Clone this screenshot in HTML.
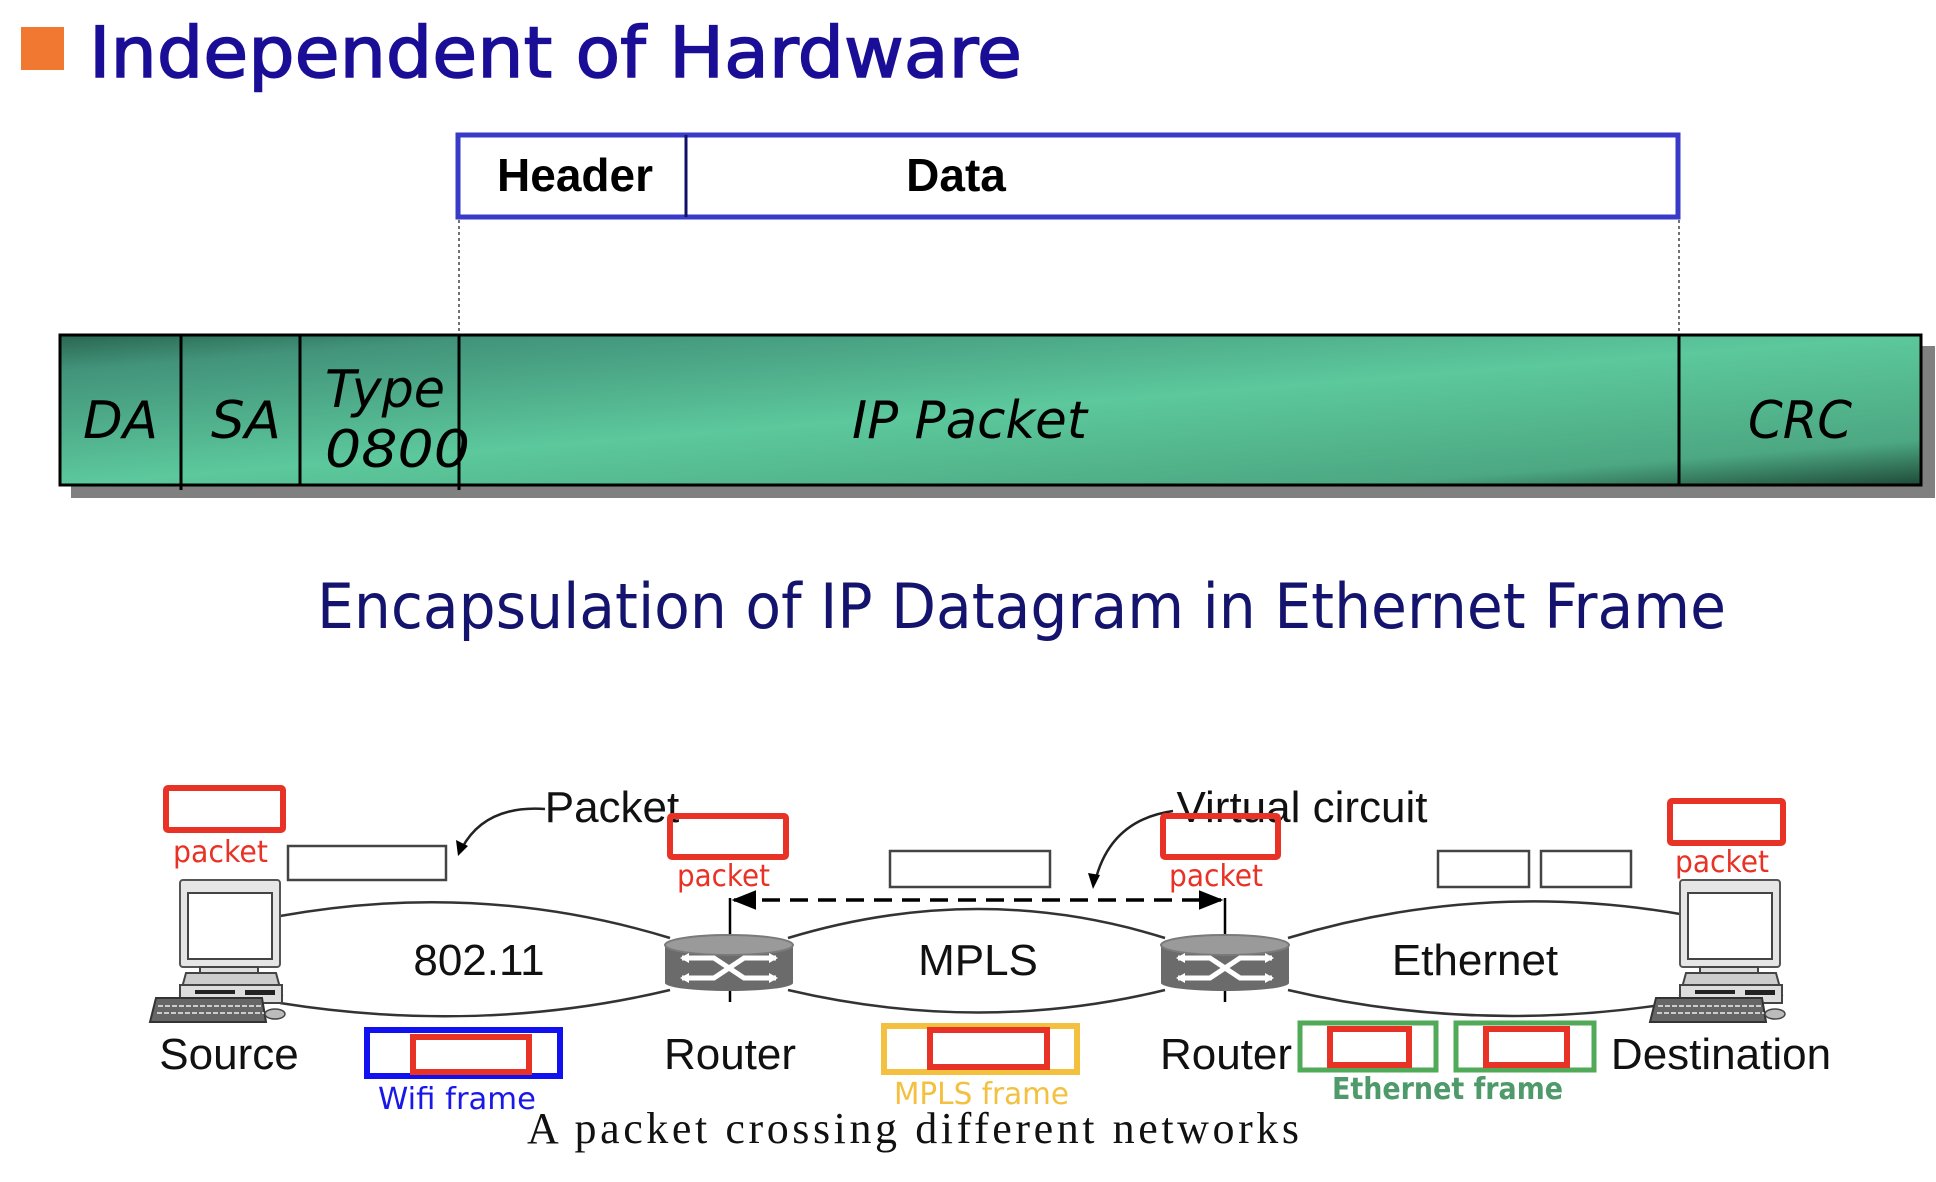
<!DOCTYPE html>
<html><head><meta charset="utf-8"><style>
html,body{margin:0;padding:0;background:#fff;}
svg{display:block;}
</style></head><body>
<svg width="1936" height="1182" viewBox="0 0 1936 1182" xmlns="http://www.w3.org/2000/svg">
<defs>
<linearGradient id="g" x1="0" y1="0" x2="1" y2="1" gradientUnits="objectBoundingBox">
<stop offset="0" stop-color="#2a6650"/>
<stop offset="0.12" stop-color="#42937a"/>
<stop offset="0.5" stop-color="#5cc89c"/>
<stop offset="0.85" stop-color="#4ca882"/>
<stop offset="1" stop-color="#1f4a38"/>
</linearGradient>
<marker id="ah" viewBox="0 0 10 10" refX="9" refY="5" markerWidth="7" markerHeight="7" orient="auto-start-reverse"><path d="M0,1 L10,5 L0,9 z" fill="#000"/></marker>
<g id="comp">
<rect x="180" y="880" width="100" height="87" rx="3" fill="#e6e6e6" stroke="#555" stroke-width="2"/>
<rect x="188" y="893" width="84" height="66" fill="#fff" stroke="#444" stroke-width="2"/>
<rect x="200" y="967" width="58" height="13" fill="#ddd" stroke="#444" stroke-width="2"/>
<path d="M180,995 L186,973 L276,973 L282,995 Z" fill="#ccc" stroke="#444" stroke-width="2"/>
<rect x="180" y="985" width="102" height="18" fill="#ddd" stroke="#444" stroke-width="2"/>
<rect x="195" y="990" width="40" height="4" fill="#222"/><rect x="245" y="990" width="30" height="5" fill="#222"/>
<path d="M156,998 L262,998 L266,1022 L150,1022 Z" fill="#666" stroke="#333" stroke-width="2"/>
<path d="M158,1006 H262 M157,1013 H264" stroke="#ccc" stroke-width="2" stroke-dasharray="5 2"/>
<ellipse cx="275" cy="1014" rx="10" ry="5" fill="#bbb" stroke="#444" stroke-width="1.5"/>
</g>
<g id="rtr">
<rect x="665" y="945" width="128" height="38" fill="#6b6b6b"/>
<ellipse cx="729" cy="983" rx="64" ry="8" fill="#6b6b6b"/>
<ellipse cx="729" cy="945" rx="64" ry="10" fill="#9a9a9a" stroke="#7a7a7a" stroke-width="2"/>
<path d="M682,958 H714 L744,978 H776 M682,978 H714 L744,958 H776" stroke="#fff" stroke-width="5" fill="none"/>
<path d="M680,958 l9,-5 v10 z M680,978 l9,-5 v10 z M778,958 l-9,-5 v10 z M778,978 l-9,-5 v10 z" fill="#fff"/>
</g>
</defs>

<rect x="21" y="27" width="43" height="43" fill="#f07830"/>
<text x="89" y="77" font-family="DejaVu Sans, sans-serif" font-size="70" fill="#1a0e96" stroke="#1a0e96" stroke-width="1.5" textLength="933" lengthAdjust="spacingAndGlyphs">Independent of Hardware</text>

<rect x="458" y="135" width="1220" height="82" fill="#fff" stroke="#3a3ac8" stroke-width="5"/>
<line x1="686" y1="135" x2="686" y2="217" stroke="#10106a" stroke-width="3"/>
<text x="575" y="191" text-anchor="middle" font-family="Liberation Sans, sans-serif" font-weight="bold" font-size="46" fill="#000">Header</text>
<text x="956" y="191" text-anchor="middle" font-family="Liberation Sans, sans-serif" font-weight="bold" font-size="46" fill="#000">Data</text>
<line x1="459" y1="220" x2="459" y2="335" stroke="#444" stroke-width="1.5" stroke-dasharray="3 3"/>
<line x1="1679" y1="220" x2="1679" y2="335" stroke="#444" stroke-width="1.5" stroke-dasharray="3 3"/>

<rect x="71" y="346" width="1864" height="152" fill="#808080"/>
<rect x="60" y="335" width="1861" height="150" fill="url(#g)" stroke="#000" stroke-width="3"/>
<g stroke="#000" stroke-width="3">
<line x1="181" y1="335" x2="181" y2="490"/><line x1="300" y1="335" x2="300" y2="485"/>
<line x1="459" y1="335" x2="459" y2="490"/><line x1="1679" y1="335" x2="1679" y2="485"/>
</g>
<g font-family="DejaVu Sans, sans-serif" font-style="italic" font-size="52" fill="#000">
<text x="83" y="438" textLength="75" lengthAdjust="spacingAndGlyphs">DA</text>
<text x="211" y="438" textLength="70" lengthAdjust="spacingAndGlyphs">SA</text>
<text x="325" y="407" textLength="120" lengthAdjust="spacingAndGlyphs">Type</text>
<text x="325" y="467" textLength="145" lengthAdjust="spacingAndGlyphs">0800</text>
<text x="852" y="438" textLength="235" lengthAdjust="spacingAndGlyphs">IP Packet</text>
<text x="1748" y="438" textLength="104" lengthAdjust="spacingAndGlyphs">CRC</text>
</g>

<text x="317" y="628" font-family="DejaVu Sans, sans-serif" font-size="62" fill="#14146e" textLength="1409" lengthAdjust="spacingAndGlyphs">Encapsulation of IP Datagram in Ethernet Frame</text>

<g fill="none" stroke="#333" stroke-width="2.5">
<path d="M280,916 Q480,880 670,938"/><path d="M280,1003 Q480,1035 670,990"/>
<path d="M788,938 Q980,880 1165,938"/><path d="M788,990 Q980,1035 1165,990"/>
<path d="M1288,938 Q1480,880 1680,914"/><path d="M1288,990 Q1480,1035 1680,1002"/>
</g>
<line x1="730" y1="898" x2="730" y2="1002" stroke="#000" stroke-width="2.5"/>
<line x1="1225" y1="898" x2="1225" y2="1002" stroke="#000" stroke-width="2.5"/>
<use href="#rtr"/>
<use href="#rtr" transform="translate(496,0)"/>
<use href="#comp"/>
<use href="#comp" transform="translate(1500,0)"/>
<line x1="734" y1="900" x2="1221" y2="900" stroke="#000" stroke-width="3.5" stroke-dasharray="18 10" marker-start="url(#ah)" marker-end="url(#ah)"/>

<g font-family="Liberation Sans, sans-serif" font-size="44" fill="#111" text-anchor="middle">
<text x="479" y="975">802.11</text>
<text x="978" y="975">MPLS</text>
<text x="1475" y="975">Ethernet</text>
<text x="229" y="1069">Source</text>
<text x="730" y="1069">Router</text>
<text x="1226" y="1069">Router</text>
<text x="1721" y="1069">Destination</text>
<text x="612" y="822">Packet</text>
<text x="1302" y="822">Virtual circuit</text>
</g>
<g fill="none" stroke="#222" stroke-width="2.5">
<path d="M545,809 Q485,805 462,848"/>
<path d="M1173,811 Q1110,820 1095,882"/>
</g>
<path d="M458,856 l-2,-16 l12,6 z M1093,889 l-5,-16 l12,2 z" fill="#000"/>

<g fill="#fff" stroke="#444" stroke-width="2.5">
<rect x="288" y="846" width="158" height="34"/>
<rect x="890" y="851" width="160" height="36"/>
<rect x="1438" y="851" width="91" height="36"/>
<rect x="1541" y="851" width="90" height="36"/>
</g>

<g fill="none" stroke="#e83226" stroke-width="6">
<rect x="166" y="788" width="117" height="42" rx="2"/>
<rect x="670" y="816" width="116" height="41" rx="2"/>
<rect x="1163" y="816" width="115" height="41" rx="2"/>
<rect x="1670" y="801" width="113" height="42" rx="2"/>
</g>
<g font-family="DejaVu Sans, sans-serif" font-size="30" fill="#e83226">
<text x="173" y="862" textLength="95" lengthAdjust="spacingAndGlyphs">packet</text>
<text x="677" y="886" textLength="93" lengthAdjust="spacingAndGlyphs">packet</text>
<text x="1169" y="886" textLength="94" lengthAdjust="spacingAndGlyphs">packet</text>
<text x="1675" y="872" textLength="94" lengthAdjust="spacingAndGlyphs">packet</text>
</g>

<rect x="367" y="1030" width="193" height="46" fill="none" stroke="#1010f0" stroke-width="6"/>
<rect x="413" y="1037" width="116" height="35" fill="none" stroke="#e83226" stroke-width="6"/>
<rect x="884" y="1026" width="193" height="46" fill="none" stroke="#f4c040" stroke-width="6"/>
<rect x="930" y="1030" width="117" height="37" fill="none" stroke="#e83226" stroke-width="6"/>
<rect x="1300" y="1023" width="136" height="47" fill="none" stroke="#50aa58" stroke-width="5"/>
<rect x="1330" y="1029" width="79" height="36" fill="none" stroke="#e83226" stroke-width="6"/>
<rect x="1456" y="1023" width="138" height="47" fill="none" stroke="#50aa58" stroke-width="5"/>
<rect x="1486" y="1029" width="81" height="36" fill="none" stroke="#e83226" stroke-width="6"/>
<g font-family="DejaVu Sans, sans-serif" font-size="30">
<text x="378" y="1109" fill="#1818e8" textLength="158" lengthAdjust="spacingAndGlyphs">Wifi frame</text>
<text x="894" y="1104" fill="#f4c040" textLength="175" lengthAdjust="spacingAndGlyphs">MPLS frame</text>
<text x="1332" y="1099" fill="#4f9a6a" font-weight="bold" textLength="231" lengthAdjust="spacingAndGlyphs">Ethernet frame</text>
</g>
<text x="527" y="1143" font-family="Liberation Serif, serif" font-size="44" fill="#111" textLength="772" lengthAdjust="spacing">A  packet  crossing  different  networks</text>
</svg>
</body></html>
